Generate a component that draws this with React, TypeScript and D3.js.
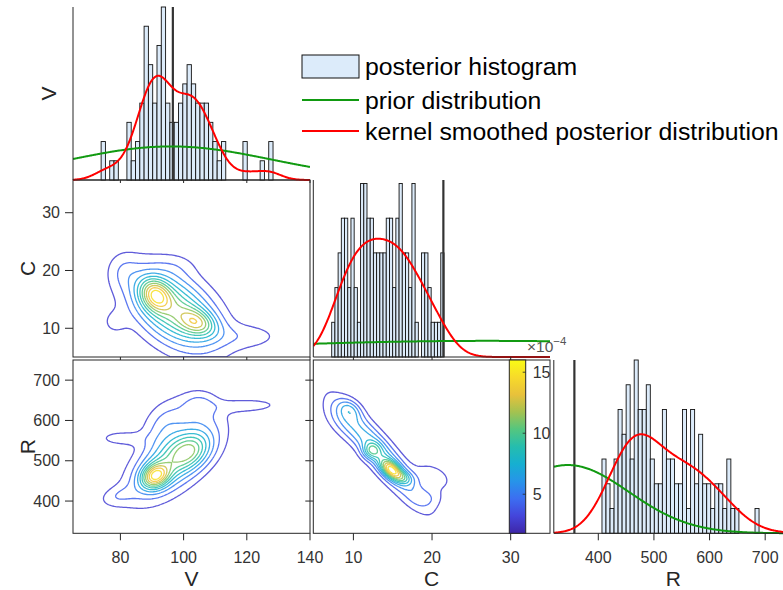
import React from 'react';
import * as d3 from 'd3';

// ---------------- data ----------------
const vTicks = [80, 100, 120, 140];
const cTicks = [10, 20, 30];
const rTicks = [400, 500, 600, 700];
const cbTicks = [5, 10, 15];

const vBinStart = 73.9;
const vBinWidth = 1.36;
const vCounts = [2, 0, 1, 1, 0, 0, 3, 1, 2, 4, 8, 6, 4, 7, 9, 4, 3, 3, 4, 5, 6, 5, 4, 4, 4, 3, 2, 1, 2, 0, 0, 0, 0, 2, 0, 0, 0, 1, 0, 2];
const vTrue = 96.6;
const vPrior = [96, 32];
const vBandwidth = 3.8;

const cBinStart = 7.24;
const cBinWidth = 0.408;
const cCounts = [1, 2, 3, 4, 4, 2, 4, 2, 1, 5, 5, 4, 4, 3, 3, 3, 3, 4, 4, 2, 4, 5, 3, 3, 2, 5, 1, 0, 3, 3, 2, 1, 1, 1, 3];
const cTrue = 21.44;
const cPrior = [27, 35];
const cBandwidth = 2.1;

const rBinStart = 406.6;
const rBinWidth = 7.24;
const rCounts = [3, 2, 1, 3, 5, 4, 6, 3, 7, 5, 5, 6, 3, 2, 2, 5, 3, 3, 2, 2, 5, 1, 5, 2, 4, 2, 2, 1, 2, 2, 1, 3, 1, 1, 0, 0, 0, 0, 1];
const rTrue = 357;
const rPrior = [345, 110];
const rBandwidth = 36;

// 2-D posterior density components: [meanX, meanY, sdX, sdY, rho, peak]
const cvComponents = [
  [91, 15.8, 3.3, 1.9, -0.2, 0.45],
  [104.5, 11, 4, 1.6, -0.3, 0.33],
  [97, 13.2, 9.5, 4.7, -0.45, 0.55],
  [121, 8.6, 7.5, 1.6, 0, 0.1],
  [78, 11, 3, 1.6, 0, 0.08],
  [81, 20, 3.5, 2.2, 0, 0.08],
  [98, 21, 5, 1.6, 0, 0.05],
];
const rvComponents = [
  [91, 462, 3, 21, 0.2, 0.5],
  [102, 522, 4.5, 30, 0.3, 0.25],
  [97, 505, 9, 65, 0.6, 0.4],
  [121, 637, 7, 12, 0.1, 0.1],
  [94, 598, 5, 42, 0.35, 0.13],
  [105, 640, 4, 25, 0, 0.13],
  [80, 556, 5, 13, 0, 0.1],
  [79, 412, 4, 18, 0.3, 0.09],
];
const rcComponents = [
  [14.8, 478, 0.9, 16, -0.5, 0.55],
  [16.3, 458, 0.9, 12, -0.3, 0.2],
  [13.5, 515, 3.6, 82, -0.9, 0.36],
  [12.3, 525, 0.8, 14, 0, 0.25],
  [9.6, 628, 1.0, 18, -0.3, 0.18],
  [8.5, 600, 1.7, 34, -0.5, 0.12],
  [20.2, 462, 1.7, 24, -0.4, 0.12],
  [19.5, 408, 1.5, 18, 0, 0.09],
];
const nLevels = 11;
const cbRange = [1.8, 16];

const legendItems = ['posterior histogram', 'prior distribution', 'kernel smoothed posterior distribution'];

// ---------------- helpers ----------------
const parulaStops = ['#3e26a8', '#4742e0', '#3e6ff7', '#2796eb', '#0fb2d2', '#21bdb0', '#4cc980', '#a5c249', '#f5ba3b', '#f7d92b', '#f9fb15'];
const parula = d3.interpolateRgbBasis(parulaStops);

const FONT = '"Liberation Sans", Arial, Helvetica, sans-serif';
const AX = '#262626';
const HIST_FILL = '#dcebfa';

function normPdf(x: number, m: number, s: number) {
  return Math.exp(-0.5 * ((x - m) / s) ** 2) / (s * Math.sqrt(2 * Math.PI));
}

function kde(x: number, start: number, w: number, counts: number[], h: number) {
  let s = 0;
  counts.forEach((c, i) => {
    if (c) s += c * w * normPdf(x, start + (i + 0.5) * w, h);
  });
  return s;
}

function mix(comps: number[][], x: number, y: number) {
  let s = 0;
  for (const [mx, my, sx, sy, r, h] of comps) {
    const zx = (x - mx) / sx;
    const zy = (y - my) / sy;
    const q = (zx * zx - 2 * r * zx * zy + zy * zy) / (1 - r * r);
    s += h * Math.exp(-q / 2);
  }
  return s;
}

function contourPaths(comps: number[][], xs: any, ys: any) {
  const cell = 1.5;
  const [x0, x1] = xs.range();
  const [y1, y0] = ys.range();
  const nx = Math.ceil((x1 - x0) / cell);
  const ny = Math.ceil((y1 - y0) / cell);
  const values = new Float64Array(nx * ny);
  let max = 0;
  for (let j = 0; j < ny; j++) {
    for (let i = 0; i < nx; i++) {
      const v = mix(comps, xs.invert(x0 + (i + 0.5) * cell), ys.invert(y0 + (j + 0.5) * cell));
      values[i + j * nx] = v;
      if (v > max) max = v;
    }
  }
  const thresholds = d3.range(1, nLevels + 1).map((k) => (max * k) / (nLevels + 1));
  const cs = d3.contours().size([nx, ny]).thresholds(thresholds)(Array.from(values));
  const path = d3.geoPath(
    d3.geoTransform({
      point(x: number, y: number) {
        (this as any).stream.point(x0 + x * cell, y0 + y * cell);
      },
    })
  );
  return cs.map((c, k) => ({ d: path(c as any) || '', color: parula((k + 1) / (nLevels + 1)) }));
}

// ---------------- layout / scales ----------------
const col0 = [73, 310];
const col1 = [313.3, 550];
const col2 = [553.8, 793];
const row0 = [7, 180];
const row1 = [180, 357];
const row2 = [360, 533.3];

const xV = d3.scaleLinear().domain([65, 140]).range(col0);
const xC = d3.scaleLinear().domain([4.9, 35]).range(col1);
const xR = d3.scaleLinear().domain([320, 750]).range(col2);
const yC = d3.scaleLinear().domain([5.03, 35.66]).range([row1[1], row1[0]]);
const yR = d3.scaleLinear().domain([320, 750]).range([row2[1], row2[0]]);
const yVh = d3.scaleLinear().domain([0, 9]).range([row0[1], row0[0]]);
const yCh = d3.scaleLinear().domain([0, 5.1]).range([row1[1], row1[0]]);
const yRh = d3.scaleLinear().domain([0, 7]).range([row2[1], row2[0]]);
const yCb = d3.scaleLinear().domain(cbRange).range([row2[1], row2[0]]);

function HistPanel({ xs, ys, start, w, counts, truth, prior, bw, id }: any) {
  const [xa, xb] = xs.domain();
  const pts = d3.range(0, 301).map((k) => xa + ((xb - xa) * k) / 300);
  const n = d3.sum(counts);
  const line = d3.line<[number, number]>().x((d) => xs(d[0])).y((d) => ys(d[1]));
  const red = line(pts.map((x) => [x, kde(x, start, w, counts, bw)]));
  const green = line(pts.map((x) => [x, normPdf(x, prior[0], prior[1]) * n * w]));
  const [r0, r1] = xs.range();
  const [b, t] = ys.range();
  return (
    <g>
      <clipPath id={id}>
        <rect x={r0} y={t - 3} width={r1 - r0} height={b - t + 6} />
      </clipPath>
      {counts.map((c: number, i: number) =>
        c > 0 ? (
          <rect
            key={i}
            x={xs(start + i * w)}
            y={ys(c)}
            width={xs(start + (i + 1) * w) - xs(start + i * w)}
            height={ys(0) - ys(c)}
            fill={HIST_FILL}
            stroke="#111"
            strokeWidth={0.9}
          />
        ) : null
      )}
      <line x1={xs(truth)} x2={xs(truth)} y1={b} y2={t} stroke="#333" strokeWidth={2.2} />
      <g clipPath={`url(#${id})`}>
        <path d={green || ''} fill="none" stroke="#119a11" strokeWidth={2} />
        <path d={red || ''} fill="none" stroke="#ff0000" strokeWidth={2} />
      </g>
      <line x1={r0} x2={r0} y1={b} y2={t} stroke={AX} strokeWidth={1} />
      <line x1={r0} x2={r1} y1={b} y2={b} stroke={AX} strokeWidth={1} />
    </g>
  );
}

function Box({ xs, ys }: any) {
  const [x0, x1] = xs.range();
  const [y1, y0] = ys.range();
  return <rect x={x0} y={y0} width={x1 - x0} height={y1 - y0} fill="none" stroke={AX} strokeWidth={1} />;
}

function ContourPanel({ xs, ys, comps, id }: any) {
  const paths = React.useMemo(() => contourPaths(comps, xs, ys), []);
  const [x0, x1] = xs.range();
  const [y1, y0] = ys.range();
  return (
    <g>
      <clipPath id={id}>
        <rect x={x0} y={y0} width={x1 - x0} height={y1 - y0} />
      </clipPath>
      <g clipPath={`url(#${id})`}>
        {paths.map((p, k) => (
          <path key={k} d={p.d} fill="none" stroke={p.color} strokeWidth={1.3} strokeOpacity={0.85} />
        ))}
      </g>
      <Box xs={xs} ys={ys} />
    </g>
  );
}

function XTicks({ xs, y, ticks, len, labels }: any) {
  return (
    <g>
      {ticks.map((t: number) => (
        <g key={t}>
          <line x1={xs(t)} x2={xs(t)} y1={y} y2={y + len} stroke={AX} strokeWidth={1} />
          {labels && (
            <text x={xs(t)} y={y + 29.5} textAnchor="middle" fontSize={16} fill="#333" fontFamily={FONT}>
              {t}
            </text>
          )}
        </g>
      ))}
    </g>
  );
}

function YTicks({ ys, x, ticks, labels }: any) {
  return (
    <g>
      {ticks.map((t: number) => (
        <g key={t}>
          <line x1={x - 8} x2={x} y1={ys(t)} y2={ys(t)} stroke={AX} strokeWidth={1} />
          {labels && (
            <text x={x - 13} y={ys(t) + 5.7} textAnchor="end" fontSize={16} fill="#333" fontFamily={FONT}>
              {t}
            </text>
          )}
        </g>
      ))}
    </g>
  );
}

export default function App() {
  const cbX = 509.3;
  const cbW = 16.4;
  const gradStops = d3.range(0, 11).map((k) => k / 10);
  return (
    <svg width={783} height={590} style={{ display: 'block', position: 'absolute', left: 0, top: 0, background: '#fff' }}>
      <defs>
        <linearGradient id="cbgrad" x1="0" y1="1" x2="0" y2="0">
          {gradStops.map((s) => (
            <stop key={s} offset={s} stopColor={parula(s)} />
          ))}
        </linearGradient>
      </defs>
      <rect x={0} y={0} width={783} height={590} fill="#fff" />

      {/* contour panels */}
      <ContourPanel xs={xV} ys={yC} comps={cvComponents} id="clipCV" />
      <ContourPanel xs={xV} ys={yR} comps={rvComponents} id="clipRV" />
      <ContourPanel xs={xC} ys={yR} comps={rcComponents} id="clipRC" />

      {/* histograms */}
      <HistPanel xs={xV} ys={yVh} start={vBinStart} w={vBinWidth} counts={vCounts} truth={vTrue} prior={vPrior} bw={vBandwidth} id="hv" />
      <HistPanel xs={xC} ys={yCh} start={cBinStart} w={cBinWidth} counts={cCounts} truth={cTrue} prior={cPrior} bw={cBandwidth} id="hc" />
      <HistPanel xs={xR} ys={yRh} start={rBinStart} w={rBinWidth} counts={rCounts} truth={rTrue} prior={rPrior} bw={rBandwidth} id="hr" />

      {/* ticks */}
      <XTicks xs={xV} y={row0[1]} ticks={vTicks} len={3} />
      <XTicks xs={xC} y={row1[1]} ticks={cTicks} len={3} />
      <XTicks xs={xV} y={row1[1]} ticks={vTicks} len={3} />
      <XTicks xs={xV} y={row2[1]} ticks={vTicks} len={7} labels />
      <XTicks xs={xC} y={row2[1]} ticks={cTicks} len={7} labels />
      <XTicks xs={xR} y={row2[1]} ticks={rTicks} len={7} labels />
      <YTicks ys={yC} x={col0[0]} ticks={cTicks} labels />
      <YTicks ys={yR} x={col0[0]} ticks={rTicks} labels />
      <YTicks ys={yR} x={col1[0]} ticks={rTicks} />

      {/* axis labels */}
      <text x={(col0[0] + col0[1]) / 2} y={586} textAnchor="middle" fontSize={21} fill="#262626" fontFamily={FONT}>V</text>
      <text x={(col1[0] + col1[1]) / 2} y={586} textAnchor="middle" fontSize={21} fill="#262626" fontFamily={FONT}>C</text>
      <text x={(col2[0] + col2[1]) / 2} y={586} textAnchor="middle" fontSize={21} fill="#262626" fontFamily={FONT}>R</text>
      <text transform={`translate(55.5,${(row0[0] + row0[1]) / 2}) rotate(-90)`} textAnchor="middle" fontSize={21} fill="#262626" fontFamily={FONT}>V</text>
      <text transform={`translate(34.5,${(row1[0] + row1[1]) / 2}) rotate(-90)`} textAnchor="middle" fontSize={21} fill="#262626" fontFamily={FONT}>C</text>
      <text transform={`translate(34.5,${(row2[0] + row2[1]) / 2}) rotate(-90)`} textAnchor="middle" fontSize={21} fill="#262626" fontFamily={FONT}>R</text>

      {/* colorbar */}
      <rect x={cbX} y={row2[0]} width={cbW} height={row2[1] - row2[0]} fill="url(#cbgrad)" stroke={AX} strokeWidth={1} />
      {cbTicks.map((t) => (
        <g key={t}>
          <line x1={cbX + cbW - 3} x2={cbX + cbW} y1={yCb(t)} y2={yCb(t)} stroke={AX} strokeWidth={0.8} />
          <text x={cbX + cbW + 7} y={yCb(t) + 5.7} fontSize={16} fill="#333" fontFamily={FONT}>{t}</text>
        </g>
      ))}
      <text x={527} y={352} fontSize={15.5} fill="#555" fontFamily={FONT}>
        ×10
        <tspan dy={-7} fontSize={11.5}>−4</tspan>
      </text>

      {/* legend */}
      <g fontFamily={FONT}>
        <rect x={302} y={55} width={57} height={23} fill={HIST_FILL} stroke="#111" strokeWidth={1} />
        <line x1={302} x2={359} y1={100} y2={100} stroke="#119a11" strokeWidth={2} />
        <line x1={302} x2={359} y1={131} y2={131} stroke="#ff0000" strokeWidth={2} />
        {legendItems.map((s, i) => (
          <text key={s} x={365} y={[66.5, 100, 131][i] + 8.5} fontSize={24.8} fill="#000">{s}</text>
        ))}
      </g>
    </svg>
  );
}
